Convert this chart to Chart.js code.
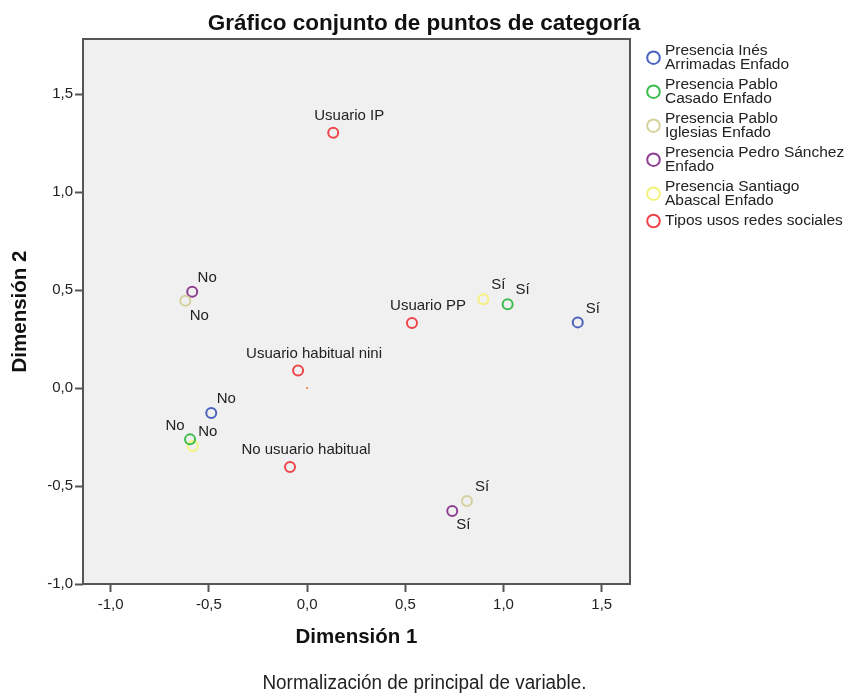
<!DOCTYPE html>
<html><head><meta charset="utf-8">
<script src="https://cdn.jsdelivr.net/npm/chart.js@4/dist/chart.umd.min.js"></script>
<style>html,body{margin:0;padding:0;background:#fff;}#wrap{width:848px;height:693px;position:relative;}</style>
</head><body><div id="wrap"><canvas id="c" width="848" height="693"></canvas></div>
<script>
// ---- data ----
const chartTitle = 'Gráfico conjunto de puntos de categoría';
const xTitle = 'Dimensión 1';
const yTitle = 'Dimensión 2';
const footnote = 'Normalización de principal de variable.';

const seriesNames = [
  'Presencia Inés Arrimadas Enfado',
  'Presencia Pablo Casado Enfado',
  'Presencia Pablo Iglesias Enfado',
  'Presencia Pedro Sánchez Enfado',
  'Presencia Santiago Abascal Enfado',
  'Tipos usos redes sociales'
];
const legendLines = [
  ['Presencia Inés', 'Arrimadas Enfado'],
  ['Presencia Pablo', 'Casado Enfado'],
  ['Presencia Pablo', 'Iglesias Enfado'],
  ['Presencia Pedro Sánchez', 'Enfado'],
  ['Presencia Santiago', 'Abascal Enfado'],
  ['Tipos usos redes sociales']
];
const yesNoLabels = ['No', 'Sí'];
const inesX = [-0.488, 1.378],   inesY = [-0.128, 0.335];
const casadoX = [-0.596, 1.021], casadoY = [-0.262, 0.427];
const iglesiasX = [-0.620, 0.814], iglesiasY = [0.445, -0.577];
const sanchezX = [-0.585, 0.739], sanchezY = [0.491, -0.628];
const abascalX = [-0.582, 0.897], abascalY = [-0.296, 0.453];
const usoLabels = ['Usuario IP', 'Usuario PP', 'Usuario habitual nini', 'No usuario habitual'];
const usoX = [0.133, 0.534, -0.046, -0.087];
const usoY = [1.303, 0.332, 0.090, -0.403];
const originX = [0], originY = [0];
const xTicks = [-1.0, -0.5, 0.0, 0.5, 1.0, 1.5];
const yTicks = [-1.0, -0.5, 0.0, 0.5, 1.0, 1.5];

// ---- styling ----
const colors = ['#4a62bf', '#3cbc4c', '#d4d09c', '#8e3d91', '#f4f27a', '#ee4549'];
const FONT = "'Liberation Sans', Arial, sans-serif";
// label offsets (dx, dy) in pixels relative to point
const defOff = [15, -14];
const labelOffsets = {
  1: {0: [-15, -14]},
  2: {0: [14, 15]},
  3: {1: [11, 14]},
  5: {0: [16, -17], 1: [16, -17], 2: [16, -17], 3: [16, -17]}
};

const xs = [inesX, casadoX, iglesiasX, sanchezX, abascalX, usoX];
const ys = [inesY, casadoY, iglesiasY, sanchezY, abascalY, usoY];
const lbls = [yesNoLabels, yesNoLabels, yesNoLabels, yesNoLabels, yesNoLabels, usoLabels];

const datasets = seriesNames.map((name, i) => ({
  label: name,
  data: xs[i].map((x, j) => ({x: x, y: ys[i][j]})),
  pointLabels: lbls[i],
  borderColor: colors[i],
  backgroundColor: 'rgba(0,0,0,0)',
  pointRadius: 5,
  pointHoverRadius: 5,
  borderWidth: 2,
  showLine: false
}));
datasets.push({
  label: 'origin',
  data: originX.map((x, j) => ({x: x, y: originY[j]})),
  pointLabels: [''],
  borderColor: '#e8773a',
  backgroundColor: '#e8773a',
  pointRadius: 1,
  borderWidth: 0,
  showLine: false
});

const fmt = v => v.toFixed(1).replace('.', ',');

const decor = {
  id: 'decor',
  beforeDraw(chart) {
    const {ctx, chartArea: a} = chart;
    ctx.save();
    ctx.fillStyle = '#ffffff';
    ctx.fillRect(0, 0, chart.width, chart.height);
    ctx.fillStyle = '#f0f0f0';
    ctx.fillRect(a.left, a.top, a.right - a.left, a.bottom - a.top);
    ctx.restore();
  },
  afterDraw(chart) {
    const {ctx, chartArea: a} = chart;
    ctx.save();
    // frame
    ctx.strokeStyle = '#555555';
    ctx.lineWidth = 2;
    ctx.strokeRect(a.left, a.top, a.right - a.left, a.bottom - a.top);
    // point labels
    ctx.fillStyle = '#222222';
    ctx.font = '15px ' + FONT;
    ctx.textAlign = 'center';
    ctx.textBaseline = 'middle';
    chart.data.datasets.forEach((ds, i) => {
      const meta = chart.getDatasetMeta(i);
      meta.data.forEach((el, j) => {
        const t = ds.pointLabels[j];
        if (!t) return;
        const off = (labelOffsets[i] && labelOffsets[i][j]) || defOff;
        ctx.fillText(t, el.x + off[0], el.y + off[1]);
      });
    });
    // legend
    let top = 40.7;
    ctx.textAlign = 'left';
    ctx.font = '15.5px ' + FONT;
    legendLines.forEach((lines, i) => {
      const h = lines.length * 13.4 + 7.2;
      const cy = top + h / 2;
      ctx.beginPath();
      ctx.arc(653.5, cy, 6.3, 0, Math.PI * 2);
      ctx.strokeStyle = colors[i];
      ctx.lineWidth = 2;
      ctx.stroke();
      ctx.fillStyle = '#222222';
      lines.forEach((ln, k) => {
        ctx.fillText(ln, 665, cy + (k - (lines.length - 1) / 2) * 13.4);
      });
      top += h;
    });
    // title
    ctx.textAlign = 'center';
    ctx.textBaseline = 'alphabetic';
    ctx.fillStyle = '#111111';
    ctx.font = 'bold 22.5px ' + FONT;
    ctx.fillText(chartTitle, 424, 30);
    // footnote (condensed)
    ctx.font = '19.5px ' + FONT;
    const w = ctx.measureText(footnote).width;
    ctx.translate(424.5, 689);
    ctx.scale(324 / w, 1);
    ctx.fillStyle = '#222222';
    ctx.fillText(footnote, 0, 0);
    ctx.restore();
  }
};

new Chart(document.getElementById('c'), {
  type: 'scatter',
  data: {datasets: datasets},
  options: {
    responsive: false,
    animation: false,
    devicePixelRatio: 1,
    layout: {padding: {left: 0, top: 39, right: 218, bottom: 0}},
    plugins: {legend: {display: false}, tooltip: {enabled: false}, title: {display: false}},
    scales: {
      x: {
        type: 'linear', min: -1.141, max: 1.644,
        afterBuildTicks: s => { s.ticks = xTicks.map(v => ({value: v})); },
        afterFit: s => { s.height = 109; },
        ticks: {callback: v => fmt(v), font: {size: 15, family: FONT}, color: '#222', padding: 4, maxRotation: 0},
        grid: {drawOnChartArea: false, drawTicks: true, tickLength: 8, tickWidth: 2, tickColor: '#555'},
        border: {display: false},
        title: {display: true, text: xTitle, font: {size: 20.5, weight: 'bold', family: FONT}, color: '#111', padding: {top: 0, bottom: 43}}
      },
      y: {
        type: 'linear', min: -1.0, max: 1.781,
        afterBuildTicks: s => { s.ticks = yTicks.map(v => ({value: v})); },
        afterFit: s => { s.width = 83; },
        ticks: {callback: v => fmt(v), font: {size: 15, family: FONT}, color: '#222', padding: 2},
        grid: {drawOnChartArea: false, drawTicks: true, tickLength: 8, tickWidth: 2, tickColor: '#555'},
        border: {display: false},
        title: {display: true, text: yTitle, font: {size: 20.5, weight: 'bold', family: FONT}, color: '#111', padding: {top: 8, bottom: 0}}
      }
    }
  },
  plugins: [decor]
});
</script></body></html>
